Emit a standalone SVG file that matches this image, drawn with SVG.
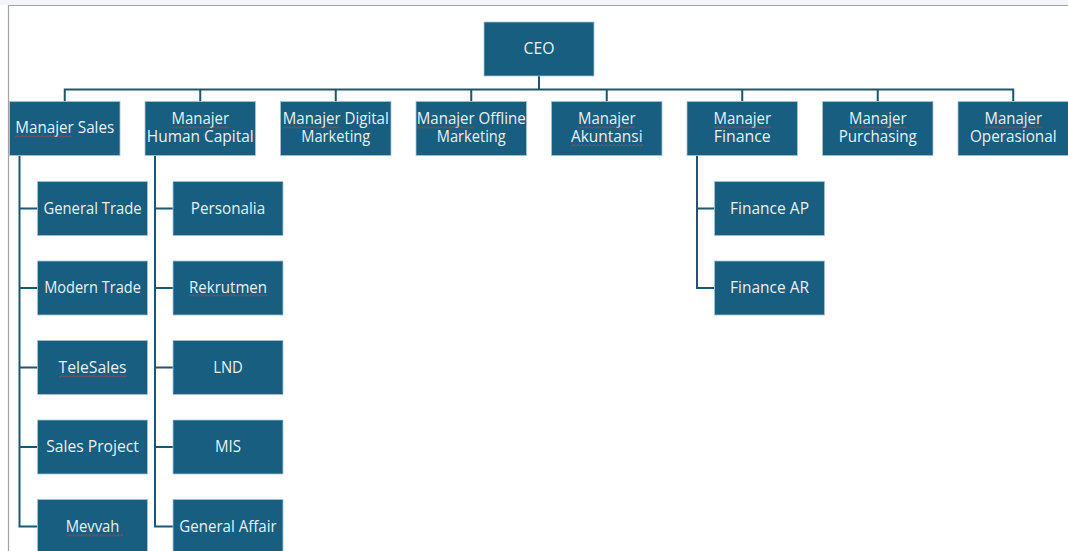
<svg xmlns="http://www.w3.org/2000/svg" width="1068" height="551" viewBox="0 0 1068 551">
<defs>
<style>
.box{fill:#175e80;stroke:#a8c4d4;stroke-width:0.8}
.t{font-family:"Open Sans","Liberation Sans",sans-serif;font-size:15.5px;font-weight:500;fill:#eaf0f4;text-anchor:middle}
.ln{stroke:#1d5670;stroke-width:2;fill:none}
.sq{fill:url(#sq)}
</style>
<pattern id="sq" width="4" height="3" patternUnits="userSpaceOnUse">
<path d="M0,2.5 L2,0.5 L4,2.5" fill="none" stroke="#d23c3c" stroke-width="0.8"/>
</pattern>
</defs>
<rect x="0" y="0" width="1068" height="551" fill="#ffffff"/>
<rect x="0" y="0" width="1068" height="5" fill="#f3f4f5"/>
<path d="M8.5,551 V5.5 H1068" fill="none" stroke="#a3a3a3" stroke-width="1.2"/>

<g id="connectors">
<path class="ln" d="M539,76 V89.5"/>
<path class="ln" d="M64.75,101.5 V89.5 H1013.25 V101.5"/>
<path class="ln" d="M200.25,89.5 V101.5 M335.75,89.5 V101.5 M471.25,89.5 V101.5 M606.75,89.5 V101.5 M742.25,89.5 V101.5 M877.75,89.5 V101.5"/>
<path class="ln" d="M19.5,155.5 V526.5 H37.5 M19.5,208.5 H37.5 M19.5,288 H37.5 M19.5,367.5 H37.5 M19.5,447 H37.5"/>
<path class="ln" d="M155,155.5 V526.5 H173 M155,208.5 H173 M155,288 H173 M155,367.5 H173 M155,447 H173"/>
<path class="ln" d="M697,155.5 V288 H714.5 M697,208.5 H714.5"/>
</g>

<g id="ceo"><rect class="box" x="484" y="22" width="110" height="54"/><text class="t" x="539" y="54" textLength="31" lengthAdjust="spacingAndGlyphs">CEO</text></g>

<g id="mgr-sales"><rect class="box" x="9.5" y="101.5" width="110.5" height="54"/><text class="t" x="64.75" y="133" textLength="99" lengthAdjust="spacingAndGlyphs">Manajer Sales</text><rect class="sq" x="15" y="135" width="57" height="3"/></g>
<g id="mgr-hc"><rect class="box" x="145" y="101.5" width="110.5" height="54"/><text class="t" x="200.25" y="124" textLength="57.6" lengthAdjust="spacingAndGlyphs">Manajer</text><text class="t" x="200.25" y="142" textLength="107" lengthAdjust="spacingAndGlyphs">Human Capital</text><rect class="sq" x="172" y="126" width="57" height="3"/></g>
<g id="mgr-digital"><rect class="box" x="280.5" y="101.5" width="110.5" height="54"/><text class="t" x="335.75" y="124" textLength="106" lengthAdjust="spacingAndGlyphs">Manajer Digital</text><text class="t" x="335.75" y="142" textLength="69" lengthAdjust="spacingAndGlyphs">Marketing</text><rect class="sq" x="283" y="126" width="57" height="3"/></g>
<g id="mgr-offline"><rect class="box" x="416" y="101.5" width="110.5" height="54"/><text class="t" x="471.25" y="124" textLength="109" lengthAdjust="spacingAndGlyphs">Manajer Offline</text><text class="t" x="471.25" y="142" textLength="69" lengthAdjust="spacingAndGlyphs">Marketing</text><rect class="sq" x="417" y="126" width="57" height="3"/></g>
<g id="mgr-akuntansi"><rect class="box" x="551.5" y="101.5" width="110.5" height="54"/><text class="t" x="606.75" y="124" textLength="57.6" lengthAdjust="spacingAndGlyphs">Manajer</text><text class="t" x="606.75" y="142" textLength="71.6" lengthAdjust="spacingAndGlyphs">Akuntansi</text><rect class="sq" x="578" y="126" width="57" height="3"/><rect class="sq" x="571" y="144" width="72" height="3"/></g>
<g id="mgr-finance"><rect class="box" x="687" y="101.5" width="110.5" height="54"/><text class="t" x="742.25" y="124" textLength="57.6" lengthAdjust="spacingAndGlyphs">Manajer</text><text class="t" x="742.25" y="142" textLength="57" lengthAdjust="spacingAndGlyphs">Finance</text><rect class="sq" x="714" y="126" width="57" height="3"/></g>
<g id="mgr-purchasing"><rect class="box" x="822.5" y="101.5" width="110.5" height="54"/><text class="t" x="877.75" y="124" textLength="57.6" lengthAdjust="spacingAndGlyphs">Manajer</text><text class="t" x="877.75" y="142" textLength="78" lengthAdjust="spacingAndGlyphs">Purchasing</text><rect class="sq" x="849" y="126" width="57" height="3"/></g>
<g id="mgr-operasional"><rect class="box" x="958" y="101.5" width="110.5" height="54"/><text class="t" x="1013.25" y="124" textLength="57.6" lengthAdjust="spacingAndGlyphs">Manajer</text><text class="t" x="1013.25" y="142" textLength="86.7" lengthAdjust="spacingAndGlyphs">Operasional</text><rect class="sq" x="985" y="126" width="57" height="3"/></g>

<g id="general-trade"><rect class="box" x="37.5" y="181.5" width="110" height="54"/><text class="t" x="92.5" y="213.5" textLength="98" lengthAdjust="spacingAndGlyphs">General Trade</text></g>
<g id="modern-trade"><rect class="box" x="37.5" y="261" width="110" height="54"/><text class="t" x="92.5" y="293" textLength="96.7" lengthAdjust="spacingAndGlyphs">Modern Trade</text></g>
<g id="telesales"><rect class="box" x="37.5" y="340.5" width="110" height="54"/><text class="t" x="92.5" y="372.5" textLength="68" lengthAdjust="spacingAndGlyphs">TeleSales</text><rect class="sq" x="59" y="375" width="68" height="3"/></g>
<g id="sales-project"><rect class="box" x="37.5" y="420" width="110" height="54"/><text class="t" x="92.5" y="452" textLength="92.7" lengthAdjust="spacingAndGlyphs">Sales Project</text></g>
<g id="mevvah"><rect class="box" x="37.5" y="499.5" width="110" height="54"/><text class="t" x="92.5" y="531.5" textLength="53.7" lengthAdjust="spacingAndGlyphs">Mevvah</text><rect class="sq" x="66" y="534" width="57" height="3"/></g>

<g id="personalia"><rect class="box" x="173" y="181.5" width="110" height="54"/><text class="t" x="228" y="213.5" textLength="74.3" lengthAdjust="spacingAndGlyphs">Personalia</text></g>
<g id="rekrutmen"><rect class="box" x="173" y="261" width="110" height="54"/><text class="t" x="228" y="293" textLength="78" lengthAdjust="spacingAndGlyphs">Rekrutmen</text><rect class="sq" x="189" y="294" width="78" height="3"/></g>
<g id="lnd"><rect class="box" x="173" y="340.5" width="110" height="54"/><text class="t" x="228" y="372.5" textLength="29.7" lengthAdjust="spacingAndGlyphs">LND</text></g>
<g id="mis"><rect class="box" x="173" y="420" width="110" height="54"/><text class="t" x="228" y="452" textLength="26" lengthAdjust="spacingAndGlyphs">MIS</text></g>
<g id="general-affair"><rect class="box" x="173" y="499.5" width="110" height="54"/><text class="t" x="228" y="531.5" textLength="97.3" lengthAdjust="spacingAndGlyphs">General Affair</text></g>

<g id="finance-ap"><rect class="box" x="714.5" y="181.5" width="110" height="54"/><text class="t" x="769.5" y="213.5" textLength="79" lengthAdjust="spacingAndGlyphs">Finance AP</text></g>
<g id="finance-ar"><rect class="box" x="714.5" y="261" width="110" height="54"/><text class="t" x="769.5" y="293" textLength="79" lengthAdjust="spacingAndGlyphs">Finance AR</text></g>
</svg>
